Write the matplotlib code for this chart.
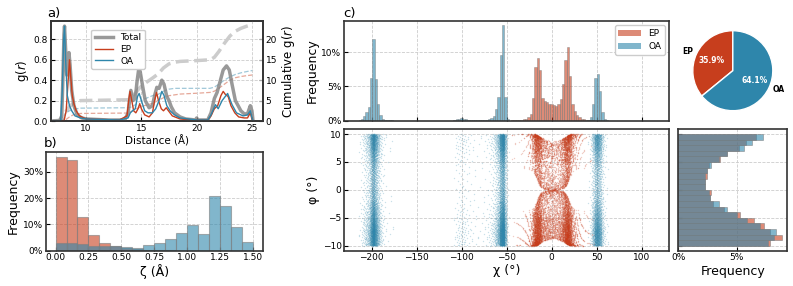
import numpy as np
import matplotlib
matplotlib.use('Agg')
import matplotlib.pyplot as plt
from matplotlib.ticker import PercentFormatter
from matplotlib.patches import Patch

EP_C = '#C73E1D'
OA_C = '#2E86AB'

# ---- a) radial distribution g(r)
r_tot = [7.0, 7.6, 7.8, 7.9, 8.0, 8.05, 8.15, 8.25, 8.35, 8.45, 8.55, 8.7, 8.9, 9.2, 9.6, 10.0, 12.0,
         13.5, 13.8, 14.05, 14.25, 14.45, 14.6, 14.75, 14.9, 15.1, 15.35, 15.7, 16.0, 16.2, 16.4, 16.6,
         16.85, 17.05, 17.3, 17.5, 17.7, 18.0, 18.5, 19.0, 19.9, 20.0, 20.1, 21.0, 21.3, 21.6, 21.85,
         22.1, 22.4, 22.7, 22.95, 23.2, 23.5, 24.0, 24.3, 24.6, 24.85, 25.0, 25.1]
g_tot = [0.0, 0.0, 0.05, 0.4, 0.85, 0.93, 0.7, 0.45, 0.5, 0.67, 0.55, 0.3, 0.15, 0.06, 0.03, 0.02, 0.01,
         0.01, 0.08, 0.3, 0.2, 0.22, 0.38, 0.5, 0.48, 0.35, 0.2, 0.13, 0.15, 0.25, 0.33, 0.32,
         0.4, 0.36, 0.24, 0.2, 0.14, 0.08, 0.04, 0.02, 0.01, 0.03, 0.01, 0.01, 0.08, 0.22, 0.28,
         0.38, 0.5, 0.54, 0.5, 0.36, 0.2, 0.1, 0.07, 0.07, 0.15, 0.1, 0.0]

r_ep = [7.0, 8.0, 8.2, 8.35, 8.5, 8.6, 8.75, 8.9, 9.1, 9.4, 10.0, 13.0, 13.7, 13.85, 13.97, 14.1, 14.3,
        14.5, 14.7, 14.85, 15.0, 15.3, 15.7, 16.0, 16.2, 16.37, 16.55, 16.8, 17.0, 17.25, 17.45, 17.8,
        18.5, 20.0, 21.0, 21.3, 21.6, 21.9, 22.2, 22.4, 22.6, 22.85, 23.1, 23.45, 23.8, 24.3, 24.6,
        24.85, 25.0, 25.1]
g_ep = [0.0, 0.0, 0.1, 0.35, 0.6, 0.45, 0.25, 0.17, 0.1, 0.05, 0.02, 0.01, 0.05, 0.2, 0.29, 0.22, 0.1,
        0.08, 0.12, 0.17, 0.12, 0.06, 0.04, 0.08, 0.2, 0.28, 0.2, 0.12, 0.1, 0.13, 0.1, 0.05,
        0.02, 0.01, 0.01, 0.05, 0.12, 0.15, 0.25, 0.29, 0.26, 0.24, 0.15, 0.08, 0.04, 0.03, 0.03,
        0.08, 0.02, 0.0]

r_oa = [7.0, 7.7, 7.85, 7.97, 8.05, 8.15, 8.3, 8.5, 8.7, 9.0, 9.5, 10.0, 13.0, 13.8, 14.0, 14.2, 14.45,
        14.65, 14.8, 15.0, 15.3, 15.6, 16.0, 16.3, 16.6, 16.85, 17.05, 17.3, 17.6, 18.0, 18.5, 20.0,
        21.0, 21.3, 21.7, 21.95, 22.3, 22.8, 23.2, 23.6, 24.2, 24.6, 24.85, 25.0, 25.1]
g_oa = [0.0, 0.0, 0.3, 0.8, 0.93, 0.6, 0.25, 0.15, 0.1, 0.05, 0.03, 0.02, 0.01, 0.03, 0.08, 0.1, 0.12,
        0.24, 0.27, 0.2, 0.1, 0.08, 0.08, 0.12, 0.2, 0.29, 0.25, 0.15, 0.1, 0.06, 0.03, 0.01,
        0.01, 0.06, 0.16, 0.12, 0.2, 0.27, 0.16, 0.08, 0.05, 0.06, 0.1, 0.03, 0.0]

r_cum = [7.0, 7.9, 8.1, 8.5, 8.9, 9.5, 13.8, 14.2, 14.8, 15.2, 16.0, 16.5, 17.0, 17.5, 18.0, 18.5,
         20.0, 21.2, 21.6, 22.0, 22.5, 23.0, 23.5, 24.0, 24.5, 25.1]
cum_tot = [0, 0.3, 2.0, 3.5, 4.5, 5.0, 5.2, 6.0, 8.0, 9.0, 10.5, 11.5, 13.0, 14.0, 14.4, 14.6,
           14.8, 15.0, 15.6, 17.0, 19.0, 20.8, 22.0, 22.7, 23.2, 23.7]
cum_ep = [0, 0, 0.2, 1.0, 1.6, 1.85, 1.95, 2.5, 3.3, 3.7, 4.3, 5.0, 5.7, 6.2, 6.4, 6.6,
          6.8, 7.0, 7.3, 8.0, 9.0, 10.0, 10.6, 10.9, 11.1, 11.3]
cum_oa = [0, 0.3, 1.8, 2.5, 2.9, 3.15, 3.25, 3.5, 4.7, 5.3, 6.2, 6.5, 7.3, 7.8, 8.0, 8.0,
          8.0, 8.0, 8.3, 9.0, 10.0, 10.8, 11.4, 11.8, 12.1, 12.4]

# ---- b) zeta histogram (%), 18 bins on 0..1.5
zeta_edges = np.linspace(0, 1.5, 19)
ep_zeta = [35.7, 34.6, 13.0, 5.9, 2.8, 1.7, 1.0, 0.6, 0.3, 0.2, 0.1, 0.05, 0, 0, 0, 0, 0, 0]
oa_zeta = [2.8, 2.9, 2.4, 1.9, 1.7, 1.7, 1.3, 1.0, 2.2, 2.8, 4.3, 6.6, 9.7, 6.3, 20.7, 17.1, 9.1, 3.3]

# ---- c) chi histogram (%), bin width and segments (first bin centre, values)
chi_w = 2.57
oa_chi_starts = [-213.42, -108.01, 41.01]
oa_chi_vals = [[0.1, 0.3, 0.7, 1.3, 2.0, 6.3, 12.0, 6.1, 2.5, 0.8, 0.3, 0.1, 0.05, 0.05, 0.03],
               [0.1, 0.2, 0.3, 0.35, 0.3, 0.2, 0.15, 0.1, 0.08, 0.06, 0.05, 0.05, 0.05, 0.1, 0.1,
                0.2, 0.4, 0.7, 1.7, 3.4, 9.6, 14.0, 3.4, 0.2],
               [0.1, 0.5, 2.5, 6.3, 6.8, 4.4, 1.3, 0.3, 0.1]]
ep_chi_starts = [-43.8]
ep_chi_vals = [[0.05, 0.05, 0.08, 0.1, 0.15, 0.2,
                0.3, 0.6, 1.0, 3.3, 7.9, 9.1, 7.4, 3.3, 2.9, 2.8, 2.5, 2.4, 2.3, 2.2, 2.5, 3.2,
                5.3, 8.8, 10.7, 6.5, 2.4, 1.4, 0.8, 0.5, 0.3, 0.2, 0.1, 0.08, 0.06, 0.05]]

# ---- phi histogram (%), bins -10..10 step 1 (bottom to top)
phi_centers = np.arange(-9.5, 10, 1.0)
ep_phi = [7.9, 8.9, 7.9, 7.4, 6.5, 5.3, 3.9, 3.0, 2.7, 2.8, 2.3, 2.3, 2.5, 2.5, 2.6, 3.6, 4.2, 5.2, 5.8, 6.7]
oa_phi = [7.7, 8.2, 8.4, 7.0, 5.9, 5.0, 4.2, 3.5, 2.7, 2.6, 2.3, 2.3, 2.3, 2.5, 2.8, 3.5, 4.2, 5.6, 6.3, 7.3]

pie_labels = ['EP', 'OA']
pie_vals = [35.9, 64.1]


def seg_arrays(starts, vals):
    c, v = [], []
    for s, vv in zip(starts, vals):
        c.extend(s + chi_w * np.arange(len(vv)))
        v.extend(vv)
    return np.array(c), np.array(v)


def spread(centers, weights, width, u):
    p = np.asarray(weights, float)
    p = p / p.sum()
    cdf = np.cumsum(p)
    idx = np.minimum(np.searchsorted(cdf, u, side='right'), len(p) - 1)
    lo = cdf[idx] - p[idx]
    frac = np.clip((u - lo) / p[idx], 0, 1)
    return np.asarray(centers)[idx] - width / 2 + frac * width


oa_c, oa_v = seg_arrays(oa_chi_starts, oa_chi_vals)
ep_c, ep_v = seg_arrays(ep_chi_starts, ep_chi_vals)

# scatter points laid out from the read histograms (deterministic low-discrepancy fill)
n = 9000
k = np.arange(1, n + 1)
oa_x = spread(oa_c, oa_v, chi_w, (k * 0.7548776662466927 + 0.1) % 1)
oa_y = spread(phi_centers, oa_phi, 1.0, (k * 0.5698402909980532 + 0.3) % 1)
ep_x = spread(ep_c, ep_v, chi_w, (k * 0.7548776662466927 + 0.5) % 1)
ep_y0 = spread(phi_centers, ep_phi, 1.0, (k * 0.5698402909980532 + 0.7) % 1)
d_rank = np.argsort(np.argsort(np.abs(ep_x - 1.2))) / n
score = 0.3 * d_rank + 0.7 * ((k * 0.41421356237) % 1)
ep_y = np.empty(n)
ep_y[np.argsort(score)] = ep_y0[np.argsort(np.abs(ep_y0))]

plt.rcParams['font.family'] = 'DejaVu Sans'
fig = plt.figure(figsize=(7.93, 2.86), dpi=100)
W, H = 793, 286


def add_ax(l, t, r, b, **kw):
    return fig.add_axes([l / W, 1 - b / H, (r - l) / W, (b - t) / H], **kw)


ax_a = add_ax(50.7, 21, 263, 121)
ax_b = add_ax(45.7, 152.3, 262.7, 250.7)
ax_s = add_ax(344.3, 129, 669.3, 250.7)
ax_t = add_ax(344.3, 20.7, 669.3, 120.7, sharex=ax_s)
ax_p = add_ax(678.3, 20.7, 787.3, 120.7)
ax_r = add_ax(678.3, 129, 787.3, 250.7, sharey=ax_s)


def style(ax):
    for sp in ax.spines.values():
        sp.set_color('#333333')
        sp.set_linewidth(1.2)
    ax.tick_params(direction='in', labelsize=6.5, length=3, width=0.8, pad=2)
    ax.grid(True, ls='--', color='#cccccc', lw=0.6)
    ax.set_axisbelow(True)


# a)
style(ax_a)
ax_a2 = ax_a.twinx()
ax_a2.plot(r_cum, cum_tot, color='#cccccc', lw=2.5, ls='--')
ax_a2.plot(r_cum, cum_ep, color=EP_C, lw=0.9, ls='--', alpha=0.45)
ax_a2.plot(r_cum, cum_oa, color=OA_C, lw=0.9, ls='--', alpha=0.45)
ax_a2.set_ylim(0, 24.5)
ax_a2.set_yticks([0, 5, 10, 15, 20])
ax_a2.tick_params(direction='in', labelsize=6.5, length=3, width=0.8, pad=2)
ax_a2.set_ylabel('Cumulative g($r$)', fontsize=8.5, labelpad=2)
for sp in ax_a2.spines.values():
    sp.set_color('#333333')
    sp.set_linewidth(1.2)
ax_a.set_zorder(ax_a2.get_zorder() + 1)
ax_a.patch.set_visible(False)
ax_a.plot(r_tot, g_tot, color='gray', lw=2.5, alpha=0.8, label='Total')
ax_a.plot(r_ep, g_ep, color=EP_C, lw=1.0, label='EP')
ax_a.plot(r_oa, g_oa, color=OA_C, lw=1.0, label='OA')
ax_a.set_xlim(6.8, 26.0)
ax_a.set_ylim(0, 0.98)
ax_a.set_xticks([10, 15, 20, 25])
ax_a.set_yticks([0, 0.2, 0.4, 0.6, 0.8])
ax_a.set_ylabel('g($r$)', fontsize=8.5, labelpad=2)
ax_a.set_xlabel('Distance (Å)', fontsize=7.5, labelpad=2)
ax_a.legend(loc='upper left', bbox_to_anchor=(0.17, 0.96), fontsize=6.5, handlelength=2.0,
            borderpad=0.4, labelspacing=0.3, framealpha=1)

# b)
style(ax_b)
bw = zeta_edges[1] - zeta_edges[0]
ax_b.bar(zeta_edges[:-1], ep_zeta, width=bw, align='edge', color=EP_C, alpha=0.6,
         edgecolor='gray', linewidth=0.8)
ax_b.bar(zeta_edges[:-1], oa_zeta, width=bw, align='edge', color=OA_C, alpha=0.6,
         edgecolor='gray', linewidth=0.8)
ax_b.set_xticks([0, 0.25, 0.5, 0.75, 1.0, 1.25, 1.5])
ax_b.set_yticks([0, 10, 20, 30])
ax_b.yaxis.set_major_formatter(PercentFormatter(decimals=0))
ax_b.set_ylabel('Frequency', fontsize=9, labelpad=2)
ax_b.set_xlabel('ζ (Å)', fontsize=9, labelpad=1)

# c) top histogram
style(ax_t)
ax_t.bar(ep_c, ep_v, width=chi_w, color=EP_C, alpha=0.6, edgecolor='gray', linewidth=0.5)
ax_t.bar(oa_c, oa_v, width=chi_w, color=OA_C, alpha=0.6, edgecolor='gray', linewidth=0.5)
ax_t.set_ylim(0, 14.6)
ax_t.set_yticks([0, 5, 10])
ax_t.yaxis.set_major_formatter(PercentFormatter(decimals=0))
ax_t.tick_params(labelbottom=False)
ax_t.set_ylabel('Frequency', fontsize=9, labelpad=2)
ax_t.legend(handles=[Patch(facecolor=EP_C, alpha=0.6, label='EP'),
                     Patch(facecolor=OA_C, alpha=0.6, label='OA')],
            loc='upper right', fontsize=6.5, handlelength=2.5, framealpha=1)

# c) scatter
style(ax_s)
ax_s.scatter(ep_x, ep_y, s=1.0, color=EP_C, alpha=0.25, linewidths=0)
ax_s.scatter(oa_x, oa_y, s=1.0, color=OA_C, alpha=0.25, linewidths=0)
ax_s.set_xlim(-230.5, 130.7)
ax_s.set_ylim(-10.9, 10.9)
ax_s.set_xticks([-200, -150, -100, -50, 0, 50, 100])
ax_s.set_yticks([-10, -5, 0, 5, 10])
ax_s.set_xlabel('χ (°)', fontsize=9, labelpad=1)
ax_s.set_ylabel('φ (°)', fontsize=9, labelpad=2)

# c) right histogram
style(ax_r)
ax_r.barh(phi_centers, ep_phi, height=1.0, color=EP_C, alpha=0.6, edgecolor='gray', linewidth=0.6)
ax_r.barh(phi_centers, oa_phi, height=1.0, color=OA_C, alpha=0.6, edgecolor='gray', linewidth=0.6)
ax_r.set_xlim(0, 9.36)
ax_r.set_xticks([0, 5])
ax_r.xaxis.set_major_formatter(PercentFormatter(decimals=0))
ax_r.tick_params(labelleft=False)
ax_r.set_xlabel('Frequency', fontsize=9, labelpad=2)

# pie
wedges, texts, autotexts = ax_p.pie(pie_vals, labels=pie_labels, colors=[EP_C, OA_C], autopct='%1.1f%%',
                                    startangle=90, wedgeprops=dict(edgecolor='white', linewidth=1),
                                    textprops=dict(fontsize=5.5, fontweight='bold'))
for t in autotexts:
    t.set_color('white')
ax_p.set_aspect('equal')

fig.text(47 / W, 1 - 13 / H, 'a)', fontsize=9.5, va='center')
fig.text(44 / W, 1 - 144 / H, 'b)', fontsize=9.5, va='center')
fig.text(343 / W, 1 - 13 / H, 'c)', fontsize=9.5, va='center')

fig.savefig('out.png', dpi=100)
